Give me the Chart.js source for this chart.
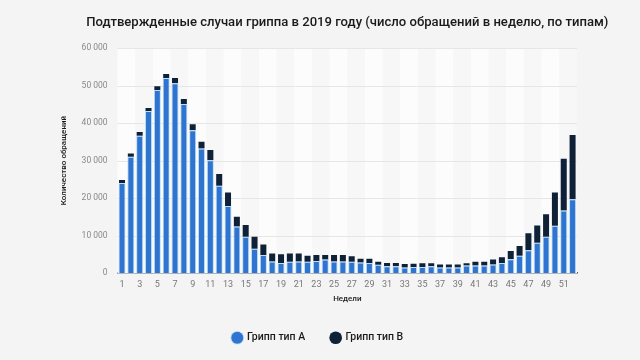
<!DOCTYPE html>
<html>
<head>
<meta charset="utf-8">
<script src="https://cdn.jsdelivr.net/npm/chart.js@4/dist/chart.umd.min.js"></script>
<style>
  html, body { margin: 0; padding: 0; background: #f4f4f4; }
  #wrap { width: 640px; height: 360px; }
</style>
</head>
<body>
<div id="wrap"><canvas id="myChart" width="640" height="360"></canvas></div>
<script>
const weeks = [];
for (let i = 1; i <= 52; i++) weeks.push(String(i));
const fluA = [24000, 31000, 36600, 43200, 48800, 52000, 50600, 45100, 38100, 33200,
  30100, 23300, 17900, 12400, 9700, 6500, 4800, 3100, 2700, 3000,
  3100, 3000, 3200, 3600, 3100, 3100, 3000, 2800, 2700, 2200,
  1800, 1800, 1500, 1600, 1600, 1800, 1500, 1500, 1500, 2000,
  2000, 2000, 2300, 2700, 3700, 4600, 6100, 8100, 9700, 12600,
  16700, 19700];
const fluB = [800, 900, 1000, 800, 1000, 1100, 1400, 1300, 1600, 1800,
  2700, 3100, 3600, 2600, 3100, 3200, 2800, 2100, 2300, 2200,
  2100, 1600, 1600, 1200, 1700, 1700, 1500, 1000, 1100, 800,
  900, 900, 900, 900, 1000, 800, 800, 800, 800, 600,
  1000, 1000, 1300, 1500, 2200, 2600, 4500, 4600, 6000, 8900,
  13800, 17100];
const yTicks = [0, 10000, 20000, 30000, 40000, 50000, 60000];
const titleText = 'Подтвержденные случаи гриппа в 2019 году (число обращений в неделю, по типам)';

const fontMain = "Roboto, 'Liberation Sans', sans-serif";

// light vertical bands behind the bars + horizontal grid
const bands = {
  id: 'bands',
  beforeDatasetsDraw(chart) {
    const { ctx, chartArea, scales } = chart;
    ctx.save();
    ctx.fillStyle = '#f7f7f7';
    ctx.fillRect(chartArea.left, chartArea.top, chartArea.right - chartArea.left, chartArea.bottom - chartArea.top);
    const step = scales.x.getPixelForValue(1) - scales.x.getPixelForValue(0);
    ctx.fillStyle = '#fcfcfc';
    for (let i = 0; i < weeks.length; i += 4) {
      const x0 = scales.x.getPixelForValue(i) - step / 2;
      ctx.fillRect(x0, chartArea.top, step * 2, chartArea.bottom - chartArea.top);
    }
    ctx.strokeStyle = '#e6e6e6';
    ctx.lineWidth = 1;
    yTicks.forEach(v => {
      if (v === 0) return;
      const y = Math.round(scales.y.getPixelForValue(v)) + 0.5;
      ctx.beginPath();
      ctx.moveTo(chartArea.left, y);
      ctx.lineTo(chartArea.right, y);
      ctx.stroke();
    });
    ctx.restore();
  }
};

// title centred over the plot area
const topTitle = {
  id: 'topTitle',
  afterDraw(chart) {
    const { ctx, chartArea } = chart;
    ctx.save();
    ctx.font = "500 13.1px " + fontMain;
    ctx.fillStyle = '#1a1a1a';
    ctx.textAlign = 'center';
    ctx.textBaseline = 'middle';
    ctx.fillText(titleText, (chartArea.left + chartArea.right) / 2, 23);
    ctx.restore();
  }
};

const ctx = document.getElementById('myChart').getContext('2d');
const fluChart = new Chart(ctx, {
  type: 'bar',
  data: {
    labels: weeks,
    datasets: [
      {
        label: 'Грипп тип А',
        data: fluA,
        backgroundColor: '#2f74d0',
        borderColor: '#b9e0f6',
        borderWidth: { top: 1, left: 1, right: 1, bottom: 0 },
        borderSkipped: false,
        barPercentage: 0.8,
        categoryPercentage: 1
      },
      {
        label: 'Грипп тип В',
        data: fluB,
        backgroundColor: '#0e2137',
        borderWidth: 0,
        barPercentage: 0.68,
        categoryPercentage: 1
      }
    ]
  },
  options: {
    responsive: false,
    animation: false,
    layout: { padding: { left: 59, right: 63, top: 48, bottom: 7 } },
    plugins: {
      title: { display: false },
      legend: {
        position: 'bottom',
        labels: {
          usePointStyle: true,
          pointStyle: 'circle',
          boxWidth: 9,
          boxHeight: 9,
          padding: 26,
          color: '#1a1a1a',
          font: { family: fontMain, size: 10.5, weight: '500' }
        }
      },
      tooltip: { enabled: false }
    },
    scales: {
      x: {
        stacked: true,
        grid: { display: false, drawTicks: false },
        border: { display: true, color: '#555b66', width: 1.5 },
        ticks: {
          autoSkip: false,
          maxRotation: 0,
          color: '#777',
          font: { family: fontMain, size: 9 },
          padding: 6,
          callback: function(val, i) { return i % 2 === 0 ? weeks[i] : ''; }
        },
        title: {
          display: true,
          text: 'Недели',
          color: '#1a1a1a',
          font: { family: fontMain, size: 8, weight: '500' },
          padding: { top: -2, bottom: 3 }
        }
      },
      y: {
        stacked: true,
        min: 0,
        max: 60000,
        grid: { display: false, drawTicks: false },
        border: { display: false },
        afterBuildTicks: axis => { axis.ticks = yTicks.map(v => ({ value: v })); },
        ticks: {
          color: '#888',
          padding: 10,
          font: { family: fontMain, size: 8.5 },
          callback: v => String(v).replace(/\B(?=(\d{3})+(?!\d))/g, ' ')
        },
        title: {
          display: true,
          text: 'Количество обращений',
          color: '#1a1a1a',
          font: { family: fontMain, size: 8, weight: '500' },
          padding: { top: 0, bottom: 3 }
        }
      }
    }
  },
  plugins: [bands, topTitle]
});
</script>
</body>
</html>
